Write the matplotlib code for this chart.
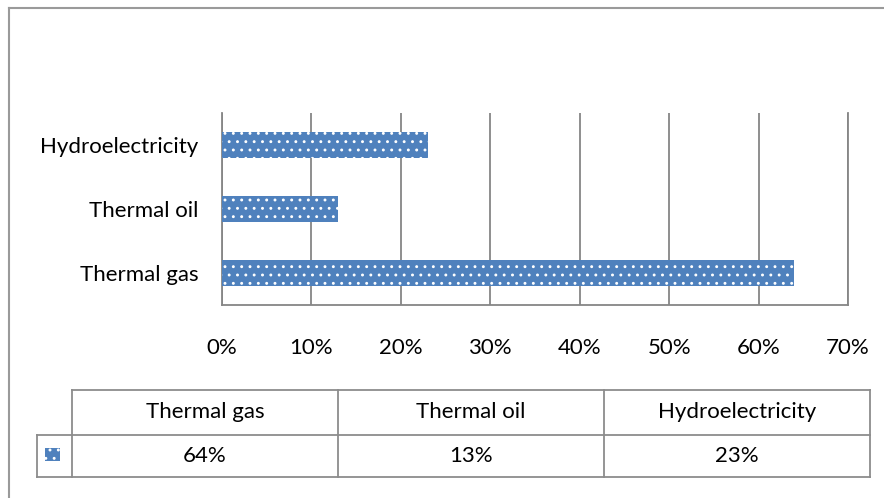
import matplotlib
matplotlib.use('Agg')
import matplotlib.pyplot as plt
from matplotlib.patches import Rectangle
from matplotlib.lines import Line2D

plt.rcParams['font.family'] = ['Lato', 'DejaVu Sans']
plt.rcParams['hatch.linewidth'] = 0.9

categories = ['Thermal gas', 'Thermal oil', 'Hydroelectricity']
shares = [64, 13, 23]
xticks = [0, 10, 20, 30, 40, 50, 60, 70]

W, H = 884, 498
blue = '#4F81BD'
gridc = '#868686'
fs = 16

fig = plt.figure(figsize=(W / 100.0, H / 100.0), dpi=100)

def fx(px):
    return px / float(W)

def fy(py):
    return 1 - py / float(H)

# chart area
ax = fig.add_axes([fx(222), fy(305), fx(848) - fx(222), fy(113) - fy(305)])
ypos = range(len(categories))
ax.barh(list(ypos), shares, height=0.4, color=blue, edgecolor='white',
        hatch='..', linewidth=0, zorder=3)
ax.set_xlim(0, 70)
ax.set_ylim(-0.5, len(categories) - 0.5)
ax.set_xticks(xticks)
ax.set_xticklabels(['%d%%' % t for t in xticks], fontsize=fs)
ax.set_yticks(list(ypos))
ax.set_yticklabels(categories, fontsize=fs)
ax.tick_params(length=0)
ax.tick_params(axis='x', pad=24)
ax.tick_params(axis='y', pad=17)
ax.grid(axis='x', color=gridc, linewidth=1.3, zorder=0)
ax.spines['top'].set_visible(False)
for s in ['left', 'bottom', 'right']:
    ax.spines[s].set_color(gridc)
    ax.spines[s].set_linewidth(1.3)

# outer frame
fig.add_artist(Line2D([fx(9), fx(9)], [fy(8), fy(498)], color='#9a9a9a', lw=1.5))
fig.add_artist(Line2D([fx(9), fx(884)], [fy(8), fy(8)], color='#9a9a9a', lw=1.5))

# data table
tcol = '#8c8c8c'
cols = [72, 338, 604, 870]
top, mid, bot = 390, 435, 477
keyx = 37

def hline(x0, x1, y):
    fig.add_artist(Line2D([fx(x0), fx(x1)], [fy(y), fy(y)], color=tcol, lw=1.3))

def vline(x, y0, y1):
    fig.add_artist(Line2D([fx(x), fx(x)], [fy(y0), fy(y1)], color=tcol, lw=1.3))

hline(cols[0], cols[-1], top)
hline(keyx, cols[-1], mid)
hline(keyx, cols[-1], bot)
for c in cols:
    vline(c, top, bot)
vline(keyx, mid, bot)

for i, name in enumerate(categories):
    cx = (cols[i] + cols[i + 1]) / 2.0
    fig.text(fx(cx), fy((top + mid) / 2.0), name, ha='center', va='center', fontsize=fs)
    fig.text(fx(cx), fy((mid + bot) / 2.0), '%d%%' % shares[i], ha='center', va='center', fontsize=fs)

fig.add_artist(Rectangle((fx(45), fy(461)), fx(60) - fx(45), fy(448) - fy(461),
                         facecolor=blue, edgecolor='white', hatch='..', linewidth=0))

fig.savefig('out.png', dpi=100)
